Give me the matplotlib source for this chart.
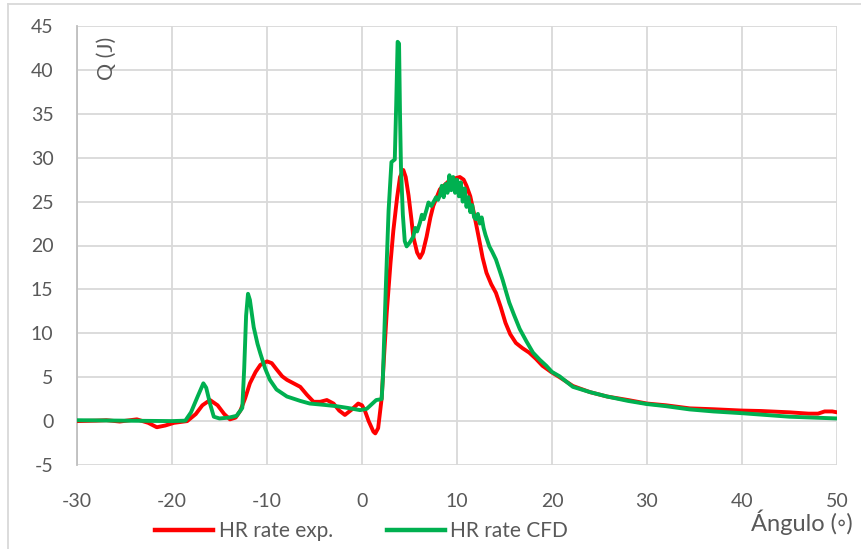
import matplotlib
matplotlib.use("Agg")
import matplotlib.pyplot as plt
from matplotlib.lines import Line2D

plt.rcParams['font.family'] = ['Lato', 'DejaVu Sans']
plt.rcParams['axes.unicode_minus'] = False

# experimental heat release rate
exp_x = [-30, -28, -26.9, -25.5, -23.7, -22.5, -21.6, -20.7, -19.8, -18.4, -17.5, -16.8, -16.0, -15.2,
         -14.5, -13.9, -13.3, -12.8, -12.3, -11.8, -11.2, -10.7, -10.0, -9.5, -9.0, -8.4, -7.9, -7.2,
         -6.5, -5.8, -5.1, -4.4, -3.7, -3.0, -2.4, -1.8, -1.1, -0.4, 0.0, 0.3, 0.7, 1.2, 1.4, 1.7,
         2.07, 2.3, 2.6, 3.0, 3.3, 3.7, 4.0, 4.35, 4.6, 4.9, 5.2, 5.4, 5.8, 6.1, 6.4, 6.8, 7.2, 7.5,
         8.2, 9.3, 10.3, 10.7, 11.0, 11.4, 11.7, 12.0, 12.4, 12.7, 13.1, 13.6, 14.1, 14.6, 15.1, 15.6,
         16.2, 16.9, 17.6, 18.3, 19.0, 19.9, 20.8, 22.2, 24, 25.8, 28, 30, 32, 34.5, 37, 40, 42, 45,
         47, 48, 48.7, 49.5, 50]
exp_q = [0, 0.05, 0.1, -0.05, 0.2, -0.2, -0.7, -0.5, -0.2, 0.0, 0.8, 1.8, 2.4, 1.8,
         0.8, 0.2, 0.4, 1.2, 2.6, 4.3, 5.6, 6.4, 6.8, 6.6, 5.9, 5.1, 4.7, 4.3,
         3.9, 3.0, 2.2, 2.2, 2.4, 2.0, 1.2, 0.7, 1.3, 2.0, 1.8, 1.2, 0.0, -1.2, -1.4, -0.8,
         2.6, 7.0, 12.3, 18.0, 21.7, 25.5, 27.8, 28.6, 27.8, 25.7, 23.0, 21.0, 19.2, 18.6, 19.2, 21.0, 23.2, 24.5,
         26.4, 27.5, 27.8, 27.5, 26.8, 25.6, 24.1, 22.5, 20.3, 18.6, 16.9, 15.6, 14.6, 13.0, 11.2, 9.9,
         8.9, 8.3, 7.8, 7.1, 6.3, 5.6, 5.0, 4.0, 3.3, 2.8, 2.4, 2.0, 1.8, 1.45, 1.35, 1.2, 1.15, 1.0,
         0.85, 0.85, 1.1, 1.1, 1.0]

# CFD heat release rate
cfd_x = [-30, -25, -20, -18.6, -18, -17.3, -16.7, -16.4, -16.0, -15.6, -15.0, -14, -13.2, -12.6,
         -12.4, -12.2, -12.0, -11.8, -11.4, -11.0, -10.7, -10.2, -9.7, -9.0, -7.9, -6.5, -5.5, -4,
         -2.7, -1.5, -0.2, 0.5, 1.5, 2.07, 2.2, 2.5, 2.8, 3.1, 3.45, 3.6, 3.75, 3.9, 4.0, 4.1, 4.3,
         4.5, 4.7, 5.0, 5.4, 5.6, 5.8, 6.1, 6.3, 6.5, 6.8, 7.0, 7.3, 7.5, 7.8, 8.0, 8.2, 8.4, 8.6,
         8.8, 9.0, 9.2, 9.4, 9.6, 9.8, 10.0, 10.2, 10.4, 10.6, 10.8, 11.0, 11.2, 11.4, 11.6, 11.8,
         12.0, 12.2, 12.4, 12.6, 12.8, 13.0, 13.4, 13.7, 14.1, 14.5, 14.8, 15.2, 15.5, 16.0, 16.6,
         17.3, 18.0, 18.7, 19.4, 20.0, 20.8, 22.2, 24, 25.8, 28, 30, 32, 34.5, 37, 40, 42.5, 45, 47.5, 50]
cfd_q = [0.1, 0.05, 0.0, 0.05, 1.0, 2.8, 4.3, 3.8, 2.0, 0.5, 0.3, 0.4, 0.6, 1.5,
         6.0, 12.0, 14.5, 13.8, 10.7, 8.8, 7.7, 6.0, 4.7, 3.6, 2.8, 2.3, 2.0, 1.85,
         1.7, 1.5, 1.25, 1.4, 2.4, 2.5, 5.0, 15.0, 24.0, 29.5, 29.8, 36.0, 43.2, 43.0, 35.0, 29.0, 23.5,
         20.5, 19.9, 20.3, 21.0, 22.0, 21.6, 22.6, 23.5, 23.0, 24.1, 24.9, 24.5, 24.9, 25.5, 25.2, 25.7, 26.8, 25.5,
         27.0, 26.0, 28.0, 26.3, 27.8, 26.0, 27.5, 25.6, 27.2, 25.0, 26.5, 24.4, 25.5, 23.8, 24.6, 23.2,
         23.0, 23.6, 22.5, 23.2, 22.0, 21.2, 19.9, 19.3, 18.4, 17.1, 16.1, 14.6, 13.5, 12.1, 10.5,
         9.1, 7.8, 7.0, 6.3, 5.6, 5.1, 3.9, 3.3, 2.8, 2.3, 1.94, 1.7, 1.33, 1.1, 0.9, 0.7, 0.5, 0.4, 0.3]

x_ticks = [-30, -20, -10, 0, 10, 20, 30, 40, 50]
y_ticks = [-5, 0, 5, 10, 15, 20, 25, 30, 35, 40, 45]

txt = '#595959'
red = '#FF0000'
green = '#00B050'

fig = plt.figure(figsize=(8.61, 5.49), dpi=100)
ax = fig.add_axes([77 / 861, 1 - 465 / 549, 760 / 861, 439 / 549])

ax.plot(exp_x, exp_q, color=red, lw=2.8, solid_joinstyle='round', solid_capstyle='round', zorder=3)
ax.plot(cfd_x, cfd_q, color=green, lw=2.8, solid_joinstyle='round', solid_capstyle='round', zorder=4)

ax.set_xlim(-30, 50)
ax.set_ylim(-5, 45)
ax.set_xticks(x_ticks)
ax.set_yticks(y_ticks)
ax.grid(True, color='#d9d9d9', lw=1.3)
ax.set_axisbelow(True)
for s in ['top', 'right', 'bottom']:
    ax.spines[s].set_visible(False)
ax.spines['left'].set_color('#bfbfbf')
ax.spines['left'].set_linewidth(1.3)
ax.tick_params(length=0, labelsize=14, colors=txt)
ax.tick_params(axis='y', pad=17)
ax.tick_params(axis='x', pad=20)

ax.text(-26.9, 41.3, 'Q (J)', rotation=90, ha='center', va='center', fontsize=15.5, color=txt)
fig.text(853 / 861, 1 - 522 / 549, 'Ángulo (◦)', ha='right', va='center', fontsize=17, color=txt)

handles = [Line2D([], [], color=red, lw=3.2), Line2D([], [], color=green, lw=3.2)]
leg = fig.legend(handles, ['HR rate exp.', 'HR rate CFD'], loc='center', bbox_to_anchor=(0.42, 1 - 531 / 549),
                 ncol=2, frameon=False, fontsize=15, handlelength=2.8, handletextpad=0.25, columnspacing=2.6,
                 borderpad=0, borderaxespad=0)
for t in leg.get_texts():
    t.set_color(txt)

# chart border (top and left edges visible)
fig.add_artist(Line2D([8 / 861, 8 / 861], [0, 1 - 4 / 549], transform=fig.transFigure, color='#d9d9d9', lw=1.3))
fig.add_artist(Line2D([8 / 861, 1], [1 - 4 / 549, 1 - 4 / 549], transform=fig.transFigure, color='#d9d9d9', lw=1.3))

fig.savefig('out.png', dpi=100)
